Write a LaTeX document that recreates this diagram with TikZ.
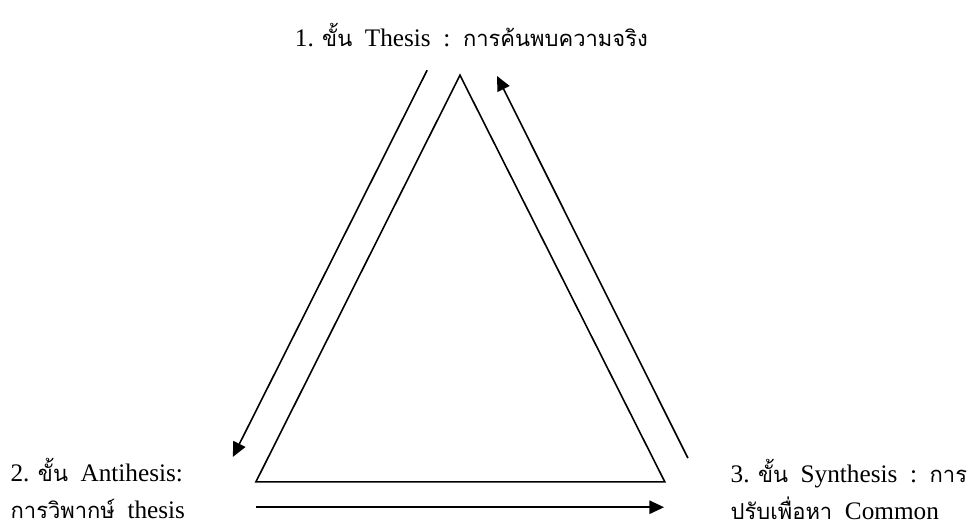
\documentclass[tikz,border=0pt]{standalone}
\usepackage{fontspec}
\setmainfont{Liberation Serif}
\newfontfamily\thaifont[Script=Thai,Scale=0.87]{Loma}
\newcommand{\thai}[1]{{\thaifont #1}}
\usetikzlibrary{arrows.meta, positioning}

\begin{document}
\begin{tikzpicture}[>={Triangle[length=11pt,width=10pt]}, line width=1.2pt,
    stagetext/.style={font=\fontsize{19}{27.75}\selectfont, inner sep=0pt, align=left}]
    \useasboundingbox (0,0) rectangle (25.69,14.05);

    % 1. Tam giac
    \coordinate (apex) at (12.17,12.06);
    \coordinate (botleft) at (6.77,1.30);
    \coordinate (botright) at (17.59,1.30);
    \draw (apex) -- (botleft) -- (botright) -- cycle;

    % 2. Cac mui ten quanh tam giac
    \coordinate (downstart) at (11.30,12.19);
    \coordinate (downend) at (6.16,1.96);
    \draw[->] (downstart) -- (downend);

    \coordinate (acrossstart) at (6.77,0.63);
    \coordinate (acrossend) at (17.57,0.63);
    \draw[->] (acrossstart) -- (acrossend);

    \coordinate (upstart) at (18.20,1.93);
    \coordinate (upend) at (13.15,12.04);
    \draw[->] (upstart) -- (upend);

    % 3. Cac nhan
    \node[stagetext, anchor=base] (thesis) at (12.47,12.83)
        {1. \thai{ขั้น}\ \ Thesis\ \ :\ \ \thai{การค้นพบความจริง}};
    \node[stagetext, anchor=base west] (antithesis) at (0.26,0.33)
        {2. \thai{ขั้น}\ \ Antihesis:\\ \thai{การวิพากษ์}\ \ thesis};
    \node[stagetext, anchor=base west] (synthesis) at (19.31,0.31)
        {3. \thai{ขั้น}\ \ Synthesis\ \ :\ \ \thai{การ}\\ \thai{ปรับเพื่อหา}\ \ Common};
\end{tikzpicture}
\end{document}
